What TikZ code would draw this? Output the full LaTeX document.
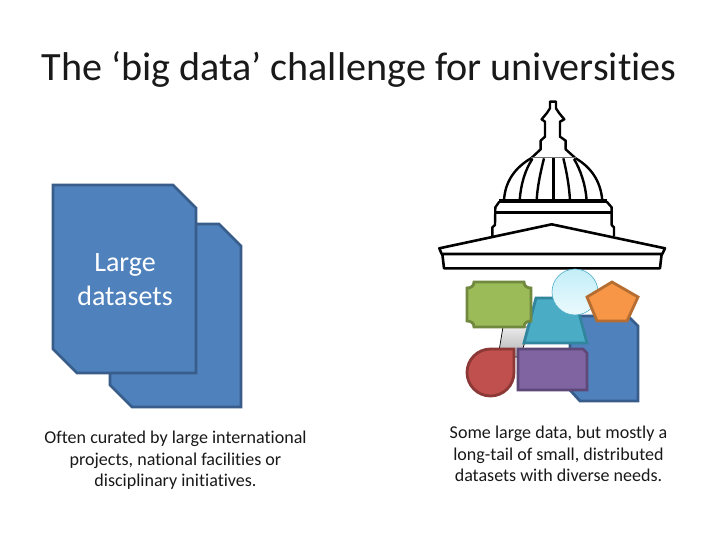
\documentclass[tikz,border=0pt]{standalone}
\usepackage{fontspec}
\setmainfont{Carlito}[Ligatures=CommonOff]
\definecolor{docfill}{HTML}{4F81BD}
\definecolor{docline}{HTML}{385D8A}
\definecolor{tealfill}{RGB}{75,172,198}
\definecolor{tealline}{RGB}{49,133,156}
\definecolor{circtop}{RGB}{195,238,248}
\definecolor{circbot}{RGB}{235,250,253}
\definecolor{greenfill}{RGB}{155,187,89}
\definecolor{greenline}{RGB}{113,137,63}
\definecolor{orangefill}{RGB}{247,150,70}
\definecolor{orangeline}{RGB}{182,109,49}
\definecolor{redfill}{RGB}{192,80,77}
\definecolor{redline}{RGB}{140,56,54}
\definecolor{purplefill}{RGB}{128,100,162}
\definecolor{purpleline}{RGB}{93,72,120}
\begin{document}
\begin{tikzpicture}[x=1pt,y=-1pt,
  docshape/.style={fill=docfill,draw=docline,line width=2.6pt,line join=miter},
  small/.style={line width=2.8pt,line join=miter},
  cap1/.style={align=center,text=black!90,font=\fontsize{18.05}{21.5}\selectfont,inner sep=0pt},
  ink/.style={draw=black,line width=2.4pt,line join=round}]
\useasboundingbox[fill=white] (0,0) rectangle (720,540);
\node[inner sep=0pt,text=black!90,font=\fontsize{40.15}{44}\selectfont] (title) at (359,69.5) {The ‘big data’ challenge for universities};
% left documents
\draw[docshape] (110,224) -- (219,224) -- (241,246) -- (241,407) -- (132,407) -- (110,385) -- cycle;
\draw[docshape] (53,185) -- (173,185) -- (196,208) -- (196,373) -- (77,373) -- (53,349) -- cycle;
\node[inner sep=0pt,align=center,text=white,font=\fontsize{28}{34}\selectfont] (large) at (125,280) {Large\\datasets};
\node[cap1] (capl) at (175.5,460.5) {Often curated by large international\\projects, national facilities or\\disciplinary initiatives.};
\node[cap1] (capr) at (558.5,454) {Some large data, but mostly a\\long-tail of small, distributed\\datasets with diverse needs.};
% building
\begin{scope}[xshift=430pt,yshift=-90pt,x=0.3333pt,y=-0.3333pt]
\draw[ink] (303,205) -- (332,178) -- (332,152) -- (345,140) -- (345,95) -- (335,88) -- (350,70) -- (360,55) -- (360,35) -- (378,35) -- (378,55) -- (388,70) -- (403,88) -- (390,95) -- (390,140) -- (407,152) -- (407,178) -- (437,205);
\draw[black!55,line width=1pt] (303,204) -- (437,204);
\draw[ink] (303,205) .. controls (260,230) and (225,270) .. (222,332);
\draw[ink] (437,205) .. controls (480,230) and (512,270) .. (517,332);
\draw[ink] (307,207) .. controls (285,240) and (272,285) .. (269,332);
\draw[ink] (342,205) .. controls (332,245) and (322,290) .. (320,332);
\draw[ink] (370,205) -- (370,332);
\draw[ink] (400,205) .. controls (410,245) and (418,290) .. (420,332);
\draw[ink] (432,207) .. controls (452,240) and (467,285) .. (470,332);
\draw[draw=black,line width=3.4pt] (208,333) -- (530,333);
\draw[ink] (208,335) -- (196,352) -- (195,405) -- (187,412) -- (187,438);
\draw[ink] (530,335) -- (545,352) -- (545,405) -- (552,412) -- (552,438);
\draw[draw=black,line width=2.4pt] (195,367) -- (545,367);
\draw[ink,line width=2.6pt,fill=white] (365,403) -- (28,475) -- (35,492) -- (697,492) -- (705,475) -- cycle;
\draw[ink,line width=2.6pt] (37,492) -- (42,535) -- (690,535) -- (695,492);
\end{scope}
% small shapes
\path[draw=black,line width=0.7pt,top color=white!92!black,bottom color=black!30] (503,327) -- (530,327) -- (520,357) -- (498,357) -- cycle;
\draw[small,fill=docfill,draw=docline] (580,316) -- (628,316) -- (638,326) -- (638,401) -- (580,401) -- (570,390) -- (570,326) -- cycle;
\draw[small,fill=tealfill,draw=tealline] (536,298) -- (575,298) -- (587,343) -- (524,343) -- cycle;
\draw[top color=circtop,bottom color=circbot,draw=tealfill,line width=0.6pt] (575,292) circle (23);
\draw[small,fill=greenfill,draw=greenline]
  (474,282) -- (524,282) .. controls (524,286) and (527,288) .. (531,288) -- (531,321) .. controls (527,321) and (524,323) .. (524,327) -- (474,327) .. controls (474,323) and (471,321) .. (467,321) -- (467,288) .. controls (471,288) and (474,286) .. (474,282) -- cycle;
\draw[small,fill=orangefill,draw=orangeline] (612,282) -- (638,297) -- (627,321) -- (597,321) -- (587,297) -- cycle;
\draw[small,fill=redfill,draw=redline] (514,349) -- (514,372.5) arc[start angle=0,delta angle=270,radius=23.5] -- cycle;
\draw[small,fill=purplefill,draw=purpleline] (518,349) -- (583,349) -- (587,353) -- (587,390) -- (518,390) -- cycle;
\end{tikzpicture}
\end{document}
